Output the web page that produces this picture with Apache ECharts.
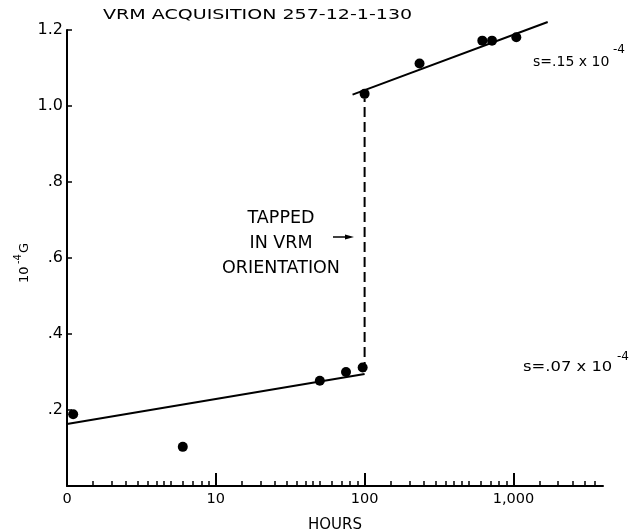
<!DOCTYPE html>
<html>
<head>
<meta charset="utf-8">
<script src="https://cdn.jsdelivr.net/npm/echarts@6/dist/echarts.min.js"></script>
<style>
  html, body { margin: 0; padding: 0; background: #fff; }
  #chart { width: 637px; height: 531px; }
</style>
</head>
<body>
<div id="chart"></div>
<script>
// Remanent magnetisation (10^-4 G) versus storage time (hours), log time axis.
const beforeHours = [1.1, 6.0, 50, 75, 97];
const beforeVRM   = [0.189, 0.103, 0.277, 0.300, 0.312];
const afterHours  = [100, 234, 618, 718, 1046];
const afterVRM    = [1.032, 1.112, 1.172, 1.172, 1.181];

// Fitted trend lines and the jump after tapping
const lowerFitHours = [1, 100];
const lowerFitVRM   = [0.163, 0.295];
const upperFitHours = [83, 1700];
const upperFitVRM   = [1.030, 1.221];
const tapHours = [100, 100];
const tapVRM   = [0.30, 1.02];

// Axis ticks and labels
const hourLabelValues = [1, 10, 100, 1000];
const hourLabelText   = ['0', '10', '100', '1,000'];
const majorHourTicks  = [10, 100, 1000];
const minorHourTicks  = [
  1.5, 2, 2.5, 3, 3.5, 4, 4.5, 5, 6, 7, 8, 9,
  15, 20, 25, 30, 35, 40, 45, 50, 60, 70, 80, 90,
  150, 200, 250, 300, 350, 400, 450, 500, 600, 700, 800, 900,
  1500, 2000, 2500, 3000, 3500
];
const vrmTicks = [0.2, 0.4, 0.6, 0.8, 1.0, 1.2];
const vrmTickText = ['.2', '.4', '.6', '.8', '1.0', '1.2'];

const ink = '#000';
const font = 'DejaVu Sans';

const zip = (xs, ys) => xs.map((x, i) => [x, ys[i]]);

const chart = echarts.init(document.getElementById('chart'), null, { renderer: 'canvas' });

const logAxisBase = {
  type: 'log',
  logBase: 10,
  min: 1,
  max: 4000,
  position: 'bottom',
  gridIndex: 0,
  splitLine: { show: false },
  minorSplitLine: { show: false }
};

chart.setOption({
  animation: false,
  backgroundColor: '#fff',
  textStyle: { fontFamily: font, color: ink },
  grid: { left: 67, right: 34, top: 30, bottom: 45, containLabel: false, outerBoundsMode: 'none' },
  xAxis: [
    Object.assign({}, logAxisBase, {
      name: 'HOURS',
      nameLocation: 'middle',
      nameGap: 32,
      nameTextStyle: { fontFamily: font, fontSize: 15, color: ink },
      axisLine: { show: true, onZero: false, lineStyle: { color: ink, width: 2 } },
      axisTick: { show: true, inside: true, length: 13, customValues: majorHourTicks,
                  lineStyle: { color: ink, width: 2 } },
      axisLabel: {
        show: true, margin: 6, fontSize: 14.5, color: ink, fontFamily: font,
        customValues: hourLabelValues,
        formatter: v => {
          const i = hourLabelValues.findIndex(h => Math.abs(h - v) < 1e-6 * h);
          return i >= 0 ? hourLabelText[i] : '';
        }
      }
    }),
    Object.assign({}, logAxisBase, {
      axisLine: { show: false, onZero: false },
      axisTick: { show: true, inside: true, length: 5, customValues: minorHourTicks,
                  lineStyle: { color: ink, width: 1.5 } },
      axisLabel: { show: false }
    })
  ],
  yAxis: {
    type: 'value',
    min: 0,
    max: 1.2,
    interval: 0.2,
    splitLine: { show: false },
    axisLine: { show: true, onZero: false, lineStyle: { color: ink, width: 2 } },
    axisTick: { show: true, inside: true, length: 5, customValues: vrmTicks,
                lineStyle: { color: ink, width: 1.5 } },
    axisLabel: {
      margin: 4, fontSize: 16, color: ink, fontFamily: font,
      customValues: vrmTicks,
      formatter: v => {
        const i = vrmTicks.findIndex(t => Math.abs(t - v) < 1e-6);
        return i >= 0 ? vrmTickText[i] : '';
      }
    }
  },
  series: [
    {
      type: 'line', data: zip(lowerFitHours, lowerFitVRM), clip: false,
      showSymbol: false, symbol: 'none', silent: true,
      lineStyle: { color: ink, width: 2 }
    },
    {
      type: 'line', data: zip(upperFitHours, upperFitVRM), clip: false,
      showSymbol: false, symbol: 'none', silent: true,
      lineStyle: { color: ink, width: 2 }
    },
    {
      type: 'line', data: zip(tapHours, tapVRM), clip: false,
      showSymbol: false, symbol: 'none', silent: true,
      lineStyle: { color: ink, width: 2, type: [10, 5] }
    },
    {
      type: 'scatter', data: zip(beforeHours, beforeVRM), clip: false,
      symbol: 'circle', symbolSize: 10, itemStyle: { color: ink, opacity: 1 }
    },
    {
      type: 'scatter', data: zip(afterHours, afterVRM), clip: false,
      symbol: 'circle', symbolSize: 10, itemStyle: { color: ink, opacity: 1 }
    }
  ],
  graphic: [
    // title lettering
    {
      type: 'text', x: 103, y: 15, scaleX: 1.36,
      style: { text: 'VRM ACQUISITION 257-12-1-130', fontFamily: font, fontSize: 14,
               fill: ink, textAlign: 'left', textVerticalAlign: 'middle' }
    },
    // vertical unit label: 10^-4 G
    {
      type: 'group', x: 25, y: 263, rotation: Math.PI / 2,
      children: [
        { type: 'text', x: -20, y: 0,
          style: { text: '10', fontFamily: font, fontSize: 13, fill: ink,
                   textAlign: 'left', textVerticalAlign: 'middle' } },
        { type: 'text', x: -1, y: -7,
          style: { text: '-4', fontFamily: font, fontSize: 10, fill: ink,
                   textAlign: 'left', textVerticalAlign: 'middle' } },
        { type: 'text', x: 10, y: 0,
          style: { text: 'G', fontFamily: font, fontSize: 13, fill: ink,
                   textAlign: 'left', textVerticalAlign: 'middle' } }
      ]
    },
    // tapping note and arrow
    {
      type: 'text', x: 281, y: 243,
      style: { text: 'TAPPED\nIN VRM\nORIENTATION', fontFamily: font, fontSize: 17.5,
               lineHeight: 25, fill: ink, textAlign: 'center', textVerticalAlign: 'middle' }
    },
    {
      type: 'line', shape: { x1: 333, y1: 237, x2: 348, y2: 237 },
      style: { stroke: ink, lineWidth: 1.5 }
    },
    {
      type: 'polygon', shape: { points: [[354, 237], [345, 234.5], [345, 239.5]] },
      style: { fill: ink }
    },
    // slope notes
    {
      type: 'text', x: 533, y: 62,
      style: { text: 's=.15 x 10', fontFamily: font, fontSize: 14, fill: ink,
               textAlign: 'left', textVerticalAlign: 'middle' }
    },
    {
      type: 'text', x: 613, y: 50,
      style: { text: '-4', fontFamily: font, fontSize: 12, fill: ink,
               textAlign: 'left', textVerticalAlign: 'middle' }
    },
    {
      type: 'text', x: 523, y: 367, scaleX: 1.17,
      style: { text: 's=.07 x 10', fontFamily: font, fontSize: 14, fill: ink,
               textAlign: 'left', textVerticalAlign: 'middle' }
    },
    {
      type: 'text', x: 617, y: 357,
      style: { text: '-4', fontFamily: font, fontSize: 12, fill: ink,
               textAlign: 'left', textVerticalAlign: 'middle' }
    }
  ]
});
</script>
</body>
</html>
